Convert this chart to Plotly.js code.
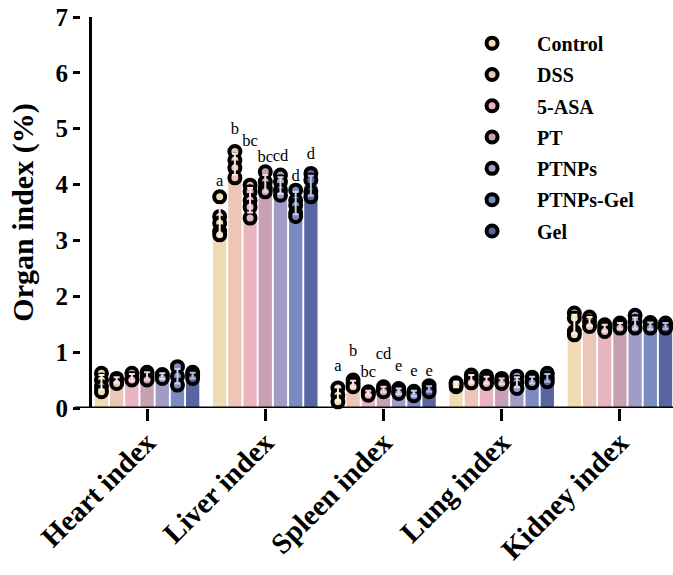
<!DOCTYPE html>
<html>
<head>
<meta charset="utf-8">
<script src="https://cdn.plot.ly/plotly-3.0.1.min.js"></script>
<style>
  html, body { margin: 0; padding: 0; background: #ffffff; }
  #chart { width: 673px; height: 575px; }
</style>
</head>
<body>
<div id="chart"></div>
<script>
// Organ index (% of body weight) per treatment group
const organs = ['Heart index', 'Liver index', 'Spleen index', 'Lung index', 'Kidney index'];
const groups = ['Control', 'DSS', '5-ASA', 'PT', 'PTNPs', 'PTNPs-Gel', 'Gel'];
const yTicks = [0, 1, 2, 3, 4, 5, 6, 7];

// Bar heights (mean) per group, in organ order
const meanControl  = [0.46, 3.36, 0.25, 0.42, 1.50];
const meanDSS      = [0.50, 4.36, 0.43, 0.52, 1.55];
const meanASA      = [0.55, 3.72, 0.27, 0.50, 1.43];
const meanPT       = [0.57, 4.02, 0.33, 0.48, 1.47];
const meanPTNPs    = [0.57, 3.98, 0.30, 0.46, 1.52];
const meanPTNPsGel = [0.57, 3.67, 0.26, 0.50, 1.47];
const meanGel      = [0.58, 3.98, 0.34, 0.54, 1.47];

// Standard deviations per group, in organ order
const sdControl  = [0.13, 0.27, 0.12, 0.05, 0.17];
const sdDSS      = [0.05, 0.19, 0.06, 0.07, 0.08];
const sdASA      = [0.06, 0.22, 0.04, 0.06, 0.06];
const sdPT       = [0.07, 0.15, 0.05, 0.05, 0.05];
const sdPTNPs    = [0.05, 0.15, 0.05, 0.09, 0.10];
const sdPTNPsGel = [0.13, 0.20, 0.05, 0.06, 0.06];
const sdGel      = [0.05, 0.18, 0.05, 0.07, 0.05];

// Individual animals per group, one list per organ
const ptsControl  = [[0.62, 0.50, 0.38, 0.29], [3.78, 3.43, 3.31, 3.16, 3.10], [0.36, 0.23, 0.11], [0.38, 0.45, 0.43], [1.70, 1.61, 1.37, 1.31]];
const ptsDSS      = [[0.53, 0.50, 0.44], [4.59, 4.44, 4.30, 4.12], [0.50, 0.44, 0.38], [0.59, 0.52, 0.45], [1.63, 1.55, 1.46]];
const ptsASA      = [[0.62, 0.53, 0.50], [3.99, 3.87, 3.72, 3.60, 3.40], [0.29, 0.27, 0.23], [0.57, 0.50, 0.44], [1.49, 1.43, 1.37]];
const ptsPT       = [[0.64, 0.57, 0.50], [4.23, 4.05, 3.93, 3.87], [0.38, 0.33, 0.29], [0.53, 0.48, 0.44], [1.52, 1.47, 1.43]];
const ptsPTNPs    = [[0.60, 0.57, 0.53], [4.17, 4.05, 3.90, 3.81], [0.35, 0.30, 0.26], [0.57, 0.46, 0.35], [1.66, 1.55, 1.43]];
const ptsPTNPsGel = [[0.74, 0.57, 0.41], [3.90, 3.72, 3.63, 3.49, 3.43], [0.30, 0.26, 0.22], [0.55, 0.50, 0.45], [1.53, 1.47, 1.43]];
const ptsGel      = [[0.64, 0.58, 0.53], [4.20, 4.08, 3.87, 3.78], [0.40, 0.34, 0.29], [0.62, 0.54, 0.47], [1.52, 1.47, 1.43]];

// Significance letters (liver and spleen), one per group
const letterOrgans  = ['Liver index', 'Spleen index'];
const liverLetters  = ['a', 'b', 'bc', 'bc', 'cd', 'd', 'd'];
const liverLetterY  = [4.05, 4.98, 4.77, 4.47, 4.50, 4.14, 4.53];
const spleenLetters = ['a', 'b', 'bc', 'cd', 'e', 'e', 'e'];
const spleenLetterY = [0.73, 1.00, 0.63, 0.95, 0.73, 0.64, 0.64];

const means  = [meanControl, meanDSS, meanASA, meanPT, meanPTNPs, meanPTNPsGel, meanGel];
const sds    = [sdControl, sdDSS, sdASA, sdPT, sdPTNPs, sdPTNPsGel, sdGel];
const points = [ptsControl, ptsDSS, ptsASA, ptsPT, ptsPTNPs, ptsPTNPsGel, ptsGel];

const barColors = ['#EFDCB3', '#ECC6B7', '#E7B4BF', '#C8A0B4', '#A19CC5', '#7B8BC1', '#58659E'];
const errColors = ['#FBF3E2', '#F9E6DE', '#F7E0E5', '#EAD8E0', '#D9D7EA', '#C6CEE8', '#B3BAD8'];

const serif = 'Liberation Serif, Times New Roman, serif';

const bars = [], dots = [], errs = [], letters = [];
groups.forEach((g, k) => {
  bars.push({
    type: 'bar', x: organs, y: means[k], offsetgroup: g, name: g,
    marker: { color: barColors[k], line: { width: 0 } },
    showlegend: false, hoverinfo: 'skip'
  });
  const px = [], py = [];
  points[k].forEach((vals, i) => vals.forEach(v => { px.push(organs[i]); py.push(v); }));
  dots.push({
    type: 'scatter', mode: 'markers', x: px, y: py, offsetgroup: g, name: g,
    legendgroup: g,
    marker: { size: 11, color: barColors[k], line: { color: '#000000', width: 4 } },
    cliponaxis: false, hoverinfo: 'skip'
  });
  errs.push({
    type: 'scatter', mode: 'markers', x: organs, y: means[k], offsetgroup: g,
    showlegend: false, hoverinfo: 'skip', cliponaxis: false,
    marker: { size: 1, color: 'rgba(0,0,0,0)' },
    error_y: { type: 'data', array: sds[k], visible: true, color: errColors[k], thickness: 2, width: 3 }
  });
  letters.push({
    type: 'scatter', mode: 'text', x: letterOrgans,
    y: [liverLetterY[k], spleenLetterY[k]],
    text: [liverLetters[k], spleenLetters[k]],
    offsetgroup: g, showlegend: false, hoverinfo: 'skip', cliponaxis: false,
    textposition: 'middle center',
    textfont: { family: serif, size: 16.5, color: '#000000' }
  });
});

// carrier for the left tick scale (draws nothing)
const scaleCarrier = {
  type: 'scatter', mode: 'none', x: [organs[0]], y: [0], yaxis: 'y2',
  showlegend: false, hoverinfo: 'skip'
};

const layout = {
  width: 673, height: 575,
  margin: { l: 80, r: 0, t: 17, b: 167 },
  paper_bgcolor: '#ffffff', plot_bgcolor: '#ffffff',
  barmode: 'group', bargap: 0.1, bargroupgap: 0.125,
  scattermode: 'group', scattergap: 0.1,
  showlegend: true,
  legend: {
    x: 0.619, y: 0.983, xanchor: 'left', yanchor: 'top',
    bgcolor: 'rgba(0,0,0,0)', itemwidth: 80, tracegroupgap: 2.3,
    font: { family: serif, size: 20, color: '#000000', weight: 'bold' }
  },
  xaxis: {
    domain: [0.0202, 1],
    type: 'category', range: [-0.466, 4.449],
    showline: false, showgrid: false, zeroline: false,
    ticks: 'outside', ticklen: 12, tickwidth: 3, tickcolor: '#000000',
    tickangle: -45, ticklabelstandoff: -7,
    tickfont: { family: serif, size: 29, color: '#000000', weight: 'bold' }
  },
  yaxis: {
    range: [0, 7], showline: true, linewidth: 3, linecolor: '#000000',
    showgrid: false, zeroline: false, ticks: '', showticklabels: false
  },
  yaxis2: {
    overlaying: 'y', anchor: 'free', position: 0, side: 'left',
    range: [0, 7], tickmode: 'array', tickvals: yTicks,
    showline: false, showgrid: false, zeroline: false,
    ticks: 'outside', ticklen: 7, tickwidth: 3, tickcolor: '#000000',
    tickfont: { family: serif, size: 25, color: '#000000', weight: 'bold' },
    title: { text: 'Organ index (%)', standoff: 12,
             font: { family: serif, size: 30, color: '#000000', weight: 'bold' } }
  },
  shapes: [{
    type: 'line', xref: 'paper', yref: 'y', x0: -0.0084, x1: 1, y0: 0, y1: 0,
    line: { color: '#000000', width: 3 }
  }]
};

Plotly.newPlot('chart', [...bars, ...dots, ...errs, ...letters, scaleCarrier], layout, { displayModeBar: false, staticPlot: true });
</script>
</body>
</html>
